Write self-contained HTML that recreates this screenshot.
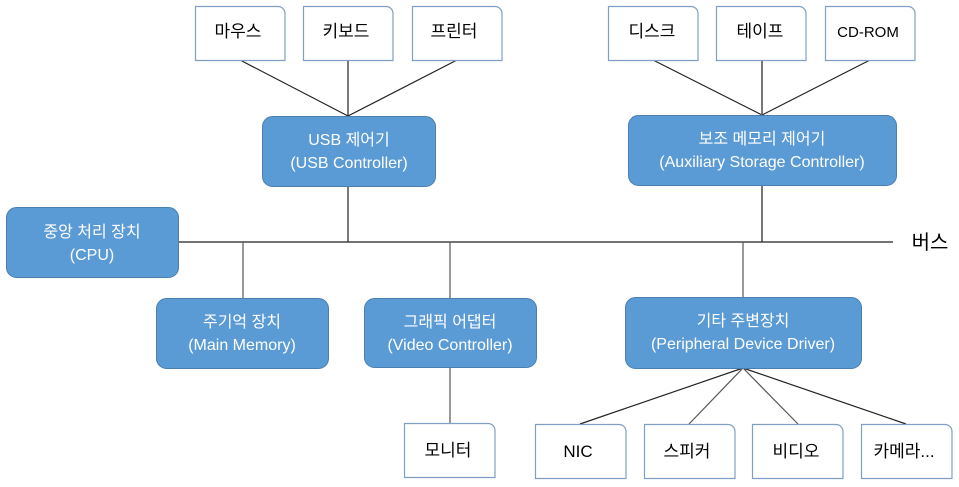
<!DOCTYPE html>
<html><head><meta charset="utf-8"><style>
html,body{margin:0;padding:0;background:#fff;width:959px;height:487px;overflow:hidden}
svg text{font-family:"Liberation Sans","Noto Sans CJK KR",sans-serif}
</style></head><body>
<svg width="959" height="487" viewBox="0 0 959 487" xmlns="http://www.w3.org/2000/svg">
<g stroke="#222" stroke-width="1.2" fill="none">
<line x1="240" y1="60" x2="348" y2="116"/>
<line x1="348" y1="60" x2="348" y2="116"/>
<line x1="457" y1="60" x2="348" y2="116"/>
<line x1="348" y1="186" x2="348" y2="242"/>
<line x1="653" y1="60" x2="762" y2="115"/>
<line x1="762" y1="60" x2="762" y2="115" stroke="#777" stroke-width="2"/>
<line x1="870" y1="60" x2="762" y2="115"/>
<line x1="762" y1="185" x2="762" y2="242" stroke="#777" stroke-width="2"/>
<line x1="178" y1="242" x2="893" y2="242"/>
<line x1="243" y1="242" x2="243" y2="298" stroke="#555"/>
<line x1="450" y1="242" x2="450" y2="298" stroke="#555"/>
<line x1="450" y1="368" x2="450" y2="424" stroke="#555"/>
<line x1="743" y1="242" x2="743" y2="297" stroke="#555"/>
<line x1="743" y1="368" x2="580" y2="424"/>
<line x1="743" y1="368" x2="689" y2="424" stroke="#555"/>
<line x1="743" y1="368" x2="798" y2="424" stroke="#555"/>
<line x1="743" y1="368" x2="906" y2="424"/>
</g>
<g fill="#5b9bd5" stroke="#4a7fb0" stroke-width="1">
<rect x="262.5" y="116.5" width="173" height="70" rx="10"/>
<rect x="628.5" y="115.5" width="268" height="70" rx="10"/>
<rect x="6.5" y="207.5" width="172" height="70" rx="10"/>
<rect x="156.5" y="298.5" width="172" height="70" rx="10"/>
<rect x="364.5" y="298.5" width="172" height="69" rx="10"/>
<rect x="625.5" y="297.5" width="236" height="71" rx="10"/>
</g>
<g fill="#fff" font-size="16" text-anchor="middle">
<text x="349" y="145">USB 제어기</text><text x="349" y="168">(USB Controller)</text>
<text x="762" y="144">보조 메모리 제어기</text><text x="762" y="167">(Auxiliary Storage Controller)</text>
<text x="92" y="237">중앙 처리 장치</text><text x="92" y="260">(CPU)</text>
<text x="242" y="327">주기억 장치</text><text x="242" y="350">(Main Memory)</text>
<text x="450" y="327">그래픽 어댑터</text><text x="450" y="350">(Video Controller)</text>
<text x="743" y="326">기타 주변장치</text><text x="743" y="349">(Peripheral Device Driver)</text>
</g>
<g fill="#fff" stroke="#7f9fc4" stroke-width="1.2">
<path d="M195.5 6.5H278a7 7 0 0 1 7 7V60.5H195.5Z"/>
<path d="M303.5 6.5H386a7 7 0 0 1 7 7V60.5H303.5Z"/>
<path d="M412.5 6.5H495a7 7 0 0 1 7 7V60.5H412.5Z"/>
<path d="M608.5 6.5H691a7 7 0 0 1 7 7V60.5H608.5Z"/>
<path d="M716.5 6.5H799a7 7 0 0 1 7 7V60.5H716.5Z"/>
<path d="M825.5 6.5H908a7 7 0 0 1 7 7V60.5H825.5Z"/>
<path d="M404.5 423.5H488a7 7 0 0 1 7 7V477.5H404.5Z"/>
<path d="M535.5 424.5H619a7 7 0 0 1 7 7V478.5H535.5Z"/>
<path d="M644.5 424.5H728a7 7 0 0 1 7 7V478.5H644.5Z"/>
<path d="M752.5 424.5H836a7 7 0 0 1 7 7V478.5H752.5Z"/>
<path d="M861.5 424.5H945a7 7 0 0 1 7 7V478.5H861.5Z"/>
</g>
<g fill="#000" font-size="17" text-anchor="middle">
<text x="238" y="37">마우스</text>
<text x="346" y="37">키보드</text>
<text x="454" y="37">프린터</text>
<text x="652" y="37">디스크</text>
<text x="760" y="37">테이프</text>
<text x="868" y="37" font-size="15">CD-ROM</text>
<text x="448" y="456">모니터</text>
<text x="578" y="457">NIC</text>
<text x="687" y="457">스피커</text>
<text x="796" y="457">비디오</text>
<text x="904" y="457">카메라...</text>
<text x="930" y="249" font-size="20">버스</text>
</g>
</svg>
</body></html>
